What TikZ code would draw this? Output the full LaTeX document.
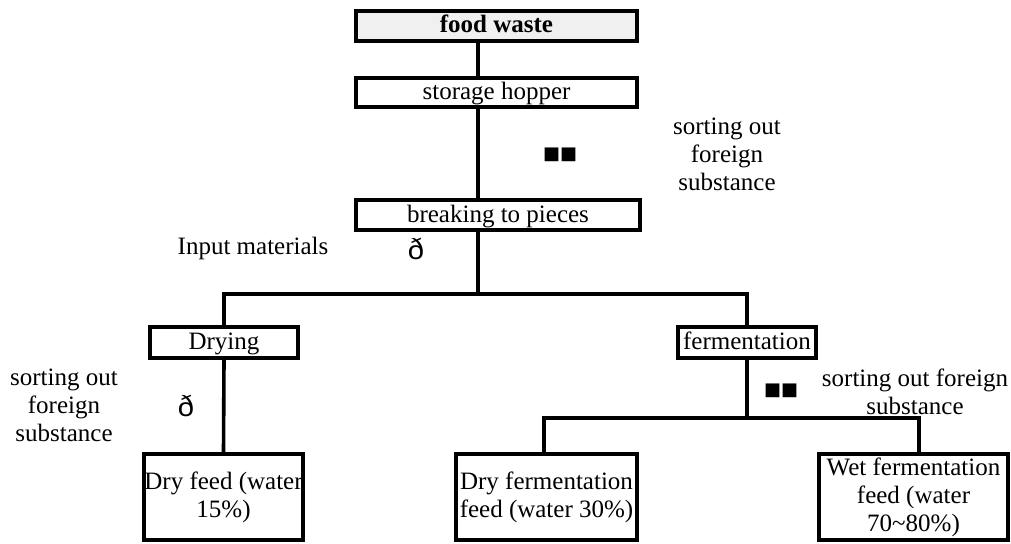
\documentclass[tikz,border=0pt]{standalone}
\usepackage{fontspec}
\setmainfont{Liberation Serif}
\newfontfamily\symfont{DejaVu Sans}
\newfontfamily\ethfont{Liberation Sans}
\begin{document}
\begin{tikzpicture}[x=1pt,y=-1pt,
  every node/.style={font=\fontsize{25}{28}\selectfont},
  stepbox/.style={draw=black,line width=3.6pt,inner sep=0pt,align=center},
  linebox/.style={stepbox,text height=19pt,text depth=5pt},
  link/.style={draw=black,line width=3.6pt},
  note/.style={align=center,inner sep=0pt},
  marks/.style={inner sep=0pt,font=\fontsize{18}{18}\symfont},
  eth/.style={inner sep=0pt,font=\fontsize{29}{29}\ethfont}]
\useasboundingbox (0,0) rectangle (1011,543);

% process boxes
\node[linebox,fill=black!6,minimum width=281pt,minimum height=30pt] (fw) at (496.5,26) {\textbf{food waste}};
\node[linebox,minimum width=281pt,minimum height=29pt] (sh) at (496.5,92.5) {storage hopper};
\node[linebox,minimum width=284pt,minimum height=30pt] (bp) at (498,215) {breaking to pieces};
\node[linebox,minimum width=148pt,minimum height=31pt] (dr) at (224,342.5) {Drying};
\node[linebox,minimum width=138pt,minimum height=31pt] (fe) at (747,342.5) {fermentation};
\node[stepbox,minimum width=159pt,minimum height=86pt] (df) at (223.5,497) {Dry feed (water\\15\%)};
\node[stepbox,minimum width=181pt,minimum height=86pt] (dff) at (546.5,497) {Dry fermentation\\feed (water 30\%)};
\node[stepbox,minimum width=189pt,minimum height=86pt] (wf) at (913.5,497) {Wet fermentation\\feed (water\\70\textasciitilde80\%)};

% junction points of the connectors
\coordinate (spine) at (478,0);
\coordinate (j1) at (478,294);
\coordinate (j2) at (747,418);
\coordinate (la) at (544,418);
\coordinate (lb) at (919,418);

% connectors
\draw[link] (fw.south -| spine) -- (sh.north -| spine);
\draw[link] (sh.south -| spine) -- (bp.north -| spine);
\draw[link] (bp.south -| spine) -- (j1);
\draw[link] (dr.north) -- (dr.north |- j1) -- (fe.north |- j1) -- (fe.north);
\draw[link] (dr.south) -- (df.north);
\draw[link] (fe.south) -- (j2);
\draw[link] (la |- dff.north) -- (la) -- (lb) -- (lb |- wf.north);

% side notes
\node[note] (n1) at (727,154) {sorting out\\foreign\\substance};
\node[marks] (m1) at (560,155) {■■};
\node[note] (n2) at (253,248) {Input materials};
\node[eth] (e1) at (416,249) {ð};
\node[note] (n3) at (64,405) {sorting out\\foreign\\substance};
\node[eth] (e2) at (186,406) {ð};
\node[marks] (m2) at (781,391) {■■};
\node[note] (n4) at (915,392) {sorting out foreign\\substance};
\end{tikzpicture}
\end{document}
